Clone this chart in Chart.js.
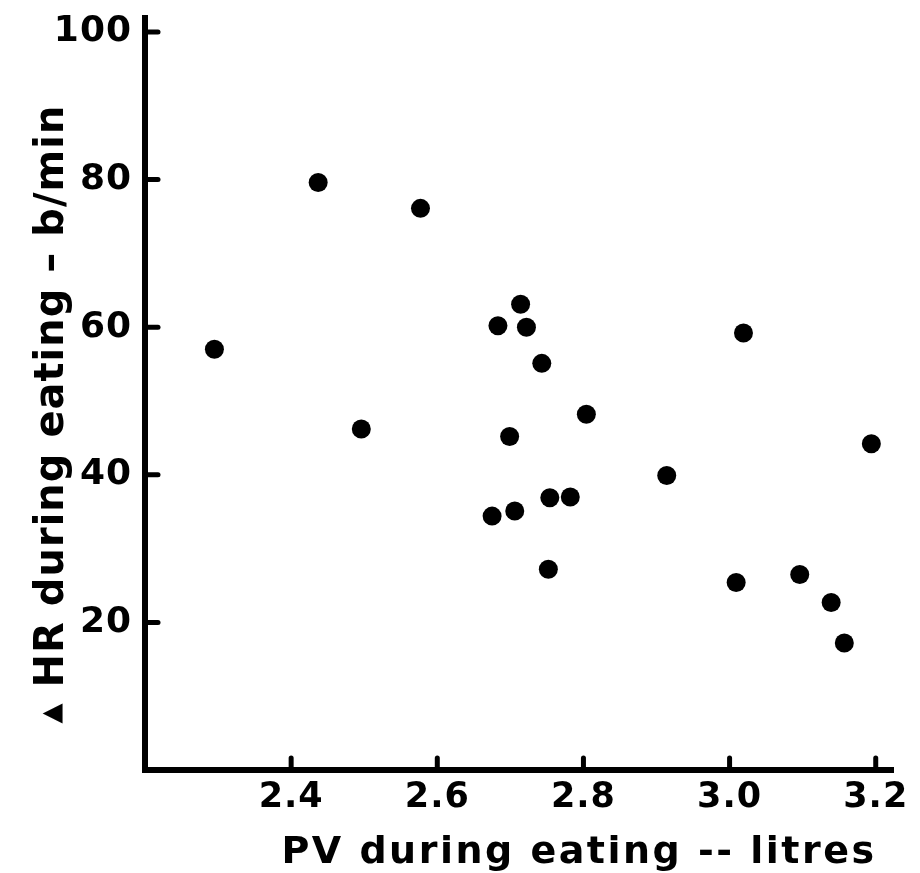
<!DOCTYPE html>
<html>
<head>
<meta charset="utf-8">
<script src="https://cdn.jsdelivr.net/npm/chart.js@4.4.1/dist/chart.umd.min.js"></script>
<style>
  html, body { margin: 0; padding: 0; background: #fff; }
  #wrap { width: 920px; height: 873px; }
</style>
</head>
<body>
<div id="wrap"><canvas id="c" width="920" height="873"></canvas></div>
<script>
// PV during eating (litres) vs rise in heart rate (b/min), one point per subject
const pvLitres = [2.295, 2.437, 2.577, 2.496, 2.714, 2.683, 2.722, 2.743, 2.804, 2.699, 2.754,
                  2.782, 2.675, 2.706, 2.752, 3.019, 3.194, 2.914, 3.009, 3.096, 3.139, 3.157];
const dHR      = [57.0, 79.6, 76.1, 46.2, 63.1, 60.2, 60.0, 55.1, 48.2, 45.2, 36.9,
                  37.0, 34.4, 35.1, 27.2, 59.2, 44.2, 39.9, 25.4, 26.5, 22.7, 17.2];

const xTicks = [2.4, 2.6, 2.8, 3.0, 3.2];
const yTicks = [20, 40, 60, 80, 100];

const xTitle = 'PV during eating -- litres';
const yTitle = '▴ HR during eating – b/min';

const FONT = '"DejaVu Sans", sans-serif';

// axis lines, short inward tick marks and the two axis titles
const axisFrame = {
  id: 'axisFrame',
  beforeDraw(chart) {
    chart.ctx.letterSpacing = '1px';
  },
  afterDatasetsDraw(chart) {
    const { ctx, chartArea: a, scales: { x, y } } = chart;
    ctx.save();
    ctx.strokeStyle = '#000';
    ctx.lineWidth = 6;
    ctx.lineJoin = 'miter';
    ctx.beginPath();
    ctx.moveTo(a.left, a.top);
    ctx.lineTo(a.left, a.bottom);
    ctx.lineTo(a.right, a.bottom);
    ctx.stroke();

    ctx.lineWidth = 5;
    ctx.lineCap = 'round';
    xTicks.forEach(v => {
      const px = x.getPixelForValue(v);
      ctx.beginPath();
      ctx.moveTo(px, a.bottom);
      ctx.lineTo(px, a.bottom - 12);
      ctx.stroke();
    });
    yTicks.forEach(v => {
      const py = y.getPixelForValue(v);
      ctx.beginPath();
      ctx.moveTo(a.left, py);
      ctx.lineTo(a.left + 13, py);
      ctx.stroke();
    });

    // titles: the original sits a bit off-centre, so place them by hand
    ctx.fillStyle = '#000';
    ctx.textAlign = 'center';
    ctx.textBaseline = 'alphabetic';
    ctx.letterSpacing = '2.5px';
    ctx.font = `bold 38px ${FONT}`;
    ctx.fillText(xTitle, a.left + 434, a.bottom + 93);

    ctx.letterSpacing = '1px';
    ctx.font = `bold 40px ${FONT}`;
    ctx.translate(a.left - 82, a.top + 399);
    ctx.rotate(-Math.PI / 2);
    ctx.fillText(yTitle, 0, 0);
    ctx.restore();
  }
};

new Chart(document.getElementById('c'), {
  type: 'scatter',
  data: {
    datasets: [{
      data: pvLitres.map((v, i) => ({ x: v, y: dHR[i] })),
      backgroundColor: '#000',
      borderWidth: 0,
      pointRadius: 9.5,
      pointHoverRadius: 9.5,
    }],
  },
  options: {
    responsive: false,
    animation: false,
    devicePixelRatio: 1,
    layout: { padding: { left: 8, right: 26, top: 15, bottom: 4 } },
    plugins: {
      legend: { display: false },
      tooltip: { enabled: false },
    },
    scales: {
      x: {
        type: 'linear',
        min: 2.2, max: 3.225,
        grid: { display: false, drawTicks: false },
        border: { display: false },
        afterBuildTicks: s => { s.ticks = xTicks.map(v => ({ value: v })); },
        afterFit: s => { s.height = 99; s.paddingLeft = 0; s.paddingRight = 0; },
        ticks: {
          color: '#000', padding: 7,
          font: { family: FONT, size: 35, weight: 'bold' },
          callback: v => v.toFixed(1),
        },
      },
      y: {
        type: 'linear',
        min: 0, max: 102.3,
        grid: { display: false, drawTicks: false },
        border: { display: false },
        afterBuildTicks: s => { s.ticks = yTicks.map(v => ({ value: v })); },
        afterFit: s => { s.width = 137; s.paddingTop = 0; s.paddingBottom = 0; },
        ticks: {
          color: '#000', padding: 13,
          font: { family: FONT, size: 36, weight: 'bold' },
        },
      },
    },
  },
  plugins: [axisFrame],
});
</script>
</body>
</html>
